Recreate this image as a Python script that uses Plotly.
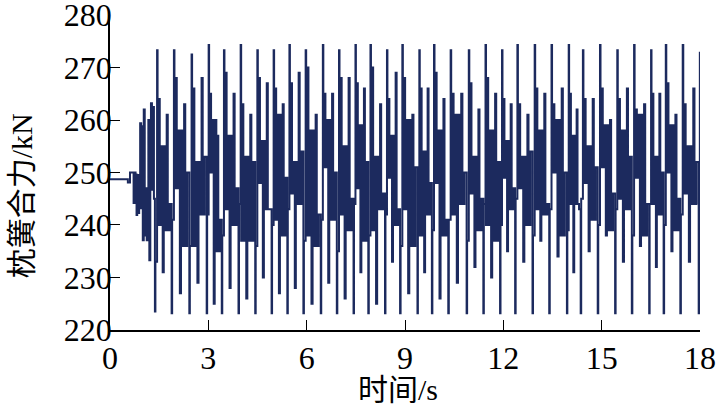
import plotly.graph_objects as go

# ---- data (time in s, bolster spring force in kN) ----
onset_t = [0.00, 0.54, 0.545, 0.605, 0.61, 0.71, 0.72, 0.75, 0.78, 0.81, 0.83, 0.86, 0.89,
           0.92, 0.95, 0.98, 1.00, 1.03, 1.06, 1.09, 1.12, 1.15, 1.17, 1.20, 1.23, 1.25,
           1.28, 1.31, 1.34]
onset_v = [248.7, 248.7, 248.1, 248.1, 250.0, 250.0, 244.2, 250.0, 249.6, 241.9, 249.5, 242.3,
           247.5, 259.4, 243.2, 258.8, 237.1, 262.0, 238.0, 247.0, 237.1, 246.0, 260.0, 233.3,
           258.5, 263.2, 246.7, 262.5, 245.0]

# times of the deep dips (start of each oscillation cycle)
cycle_start = [1.37, 1.88, 2.42, 2.95, 3.41, 3.92, 4.43, 4.93, 5.41, 5.90, 6.43, 6.92,
               7.43, 7.88, 8.39, 8.85, 9.38, 9.82, 10.32, 10.88, 11.39, 11.90, 12.36,
               12.89, 13.40, 13.94, 14.36, 14.88, 15.41, 15.92, 16.45, 16.89, 17.40, 17.96]

# per-cycle levels (kN)
dip_v  = [223.5] + [223.2] * 32
rise_v = [233, 241, 236, 242, 238, 244, 236, 240, 243, 237, 241, 235, 244, 238, 242, 236, 243,
          239, 241, 237, 244, 240, 245, 238, 243, 239, 245, 240, 243, 238, 244, 240, 242]
peak_v = [273.3, 273.3, 272.5, 274.3, 273.3, 274.3, 273.3, 273.3, 274.3, 273.3, 274.3, 273.3,
          274.3, 274.3, 273.3, 274.3, 273.3, 274.3, 273.3, 273.3, 274.3, 273.3, 274.3, 274.3,
          274.3, 274.3, 273.3, 274.3, 273.3, 274.3, 273.3, 274.3, 274.3]
a_lo = [240, 247, 236, 250, 243, 237, 248, 241, 246, 238, 251, 242, 247, 239, 249, 243, 238,
        248, 242, 246, 240, 249, 247, 243, 250, 244, 248, 251, 245, 249, 244, 250, 246]
a_hi = [264, 268, 266, 265, 269, 263, 268, 266, 267, 270, 265, 268, 267, 270, 264, 268, 266,
        269, 265, 267, 268, 264, 263, 266, 263, 265, 264, 266, 264, 262, 265, 267, 263]
b_lo = [231, 227, 229, 225, 228, 226, 230, 227, 228, 225, 229, 226, 231, 225, 233, 227, 231,
        226, 229, 232, 230, 235, 233, 237, 234, 231, 235, 238, 233, 236, 232, 235, 233]
b_hi = [255, 258, 252, 260, 257, 253, 256, 261, 252, 258, 260, 255, 259, 253, 257, 260, 254,
        258, 261, 253, 258, 256, 253, 258, 260, 257, 255, 259, 258, 261, 253, 259, 255]
c_lo = [239, 236, 242, 235, 240, 237, 243, 238, 244, 236, 241, 239, 237, 243, 240, 236, 242,
        238, 244, 239, 237, 243, 240, 242, 238, 244, 241, 239, 243, 238, 242, 239, 244]
c_hi = [261, 263, 268, 257, 265, 261, 267, 263, 269, 261, 265, 268, 266, 263, 269, 261, 266,
        264, 265, 262, 265, 263, 261, 265, 266, 262, 264, 260, 266, 263, 265, 261, 266]
end_v = [244, 250, 253, 241, 247, 252, 243, 249, 254, 242, 250, 245, 252, 246, 243, 251, 248,
         241, 250, 245, 252, 247, 254, 244, 250, 243, 251, 246, 253, 244, 250, 245, 252]

# phase (fraction of a cycle) of each sample within a cycle
cycle_phase = [0.00, 0.03, 0.13, 0.16, 0.225, 0.29, 0.40, 0.465, 0.53, 0.64, 0.705, 0.77, 0.88]

tail_t = [17.96, 17.975, 17.995, 18.0]
tail_v = [223.2, 246.0, 272.8, 272.8]

x_ticks = [0, 3, 6, 9, 12, 15, 18]
y_ticks = [220, 230, 240, 250, 260, 270, 280]
x_title = "时间/s"
y_title = "枕簧合力/kN"

# ---- assemble the trace ----
t = list(onset_t)
v = list(onset_v)
for i in range(len(peak_v)):
    span = cycle_start[i + 1] - cycle_start[i]
    vals = [dip_v[i], rise_v[i], peak_v[i],
            a_lo[i], a_hi[i], a_lo[i],
            b_hi[i], b_lo[i], b_hi[i],
            c_lo[i], c_hi[i], c_lo[i],
            end_v[i]]
    for ph, val in zip(cycle_phase, vals):
        t.append(cycle_start[i] + ph * span)
        v.append(val)
t += tail_t
v += tail_v

color = "#1c2a5e"
font_lat = "Liberation Serif, Times New Roman, serif"
font_ttl = "Liberation Serif, Noto Sans CJK SC, serif"

fig = go.Figure()
fig.add_trace(go.Scatter(x=t, y=v, mode="lines",
                         line=dict(color=color, width=2.0, shape="hv"),
                         showlegend=False, hoverinfo="skip"))

axis_common = dict(showline=True, linecolor="black", linewidth=1.5, mirror=False,
                   ticks="inside", ticklen=10, tickwidth=1.3, tickcolor="black",
                   showgrid=False, zeroline=False, automargin=False,
                   ticklabeloverflow="allow")

fig.update_layout(
    width=720, height=417,
    margin=dict(l=110, r=20, t=15, b=87),
    paper_bgcolor="white", plot_bgcolor="white",
    xaxis=dict(range=[0, 18], tickvals=x_ticks, ticktext=[str(x) for x in x_ticks],
               tickfont=dict(family=font_lat, size=32, color="black"),
               ticklabelstandoff=-1,
               **axis_common),
    yaxis=dict(range=[219.99, 280.01], tickvals=y_ticks, ticktext=[str(y) for y in y_ticks],
               tickfont=dict(family=font_lat, size=32, color="black"),
               ticklabelstandoff=-10,
               **axis_common),
    annotations=[
        dict(text=x_title, xref="paper", yref="paper", x=0.488, y=-0.19,
             xanchor="center", yanchor="middle", showarrow=False,
             font=dict(family=font_ttl, size=30, color="black")),
        dict(text=y_title, xref="paper", yref="paper", x=-0.15, y=0.426,
             xanchor="center", yanchor="middle", showarrow=False, textangle=-90,
             font=dict(family=font_ttl, size=30, color="black")),
    ],
)

fig.write_html("out.html", config={"displayModeBar": False},
               post_script="document.body.style.margin='0';document.body.style.overflow='hidden';")
